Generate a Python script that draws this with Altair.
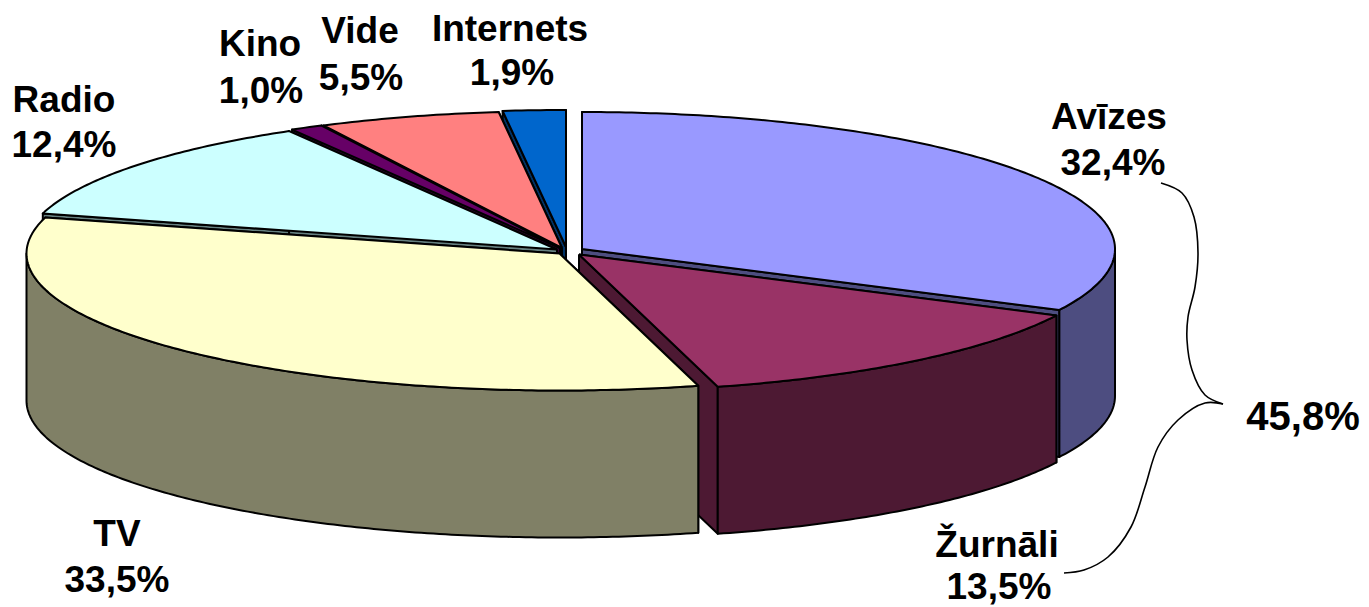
import math
import altair as alt
import pandas as pd

categories = ["Avīzes", "Žurnāli", "TV", "Radio", "Kino", "Vide", "Internets"]
shares = [32.4, 13.5, 33.5, 12.4, 1.0, 5.5, 1.9]
top_colors = ["#9999FF", "#993366", "#FFFFCC", "#CCFFFF", "#660066", "#FF8080", "#0066CC"]
side_colors = ["#4D4D80", "#4D1933", "#808066", "#668080", "#330033", "#804040", "#003366"]
centers_x = [582, 579, 559.5, 557, 560, 562, 566]
centers_y = [249, 254.5, 253.5, 249.5, 248, 248, 247]
draw_order = ["Internets", "Vide", "Kino", "Radio", "Avīzes", "Žurnāli", "TV"]

label_x1 = [1109, 997, 117, 64, 260, 360, 510]
label_x2 = [1113, 999, 117, 64, 261, 361, 512]
label_y1 = [129, 557, 546, 112, 56, 43, 41]
label_y2 = [175, 599, 592, 157, 103, 90, 85]
group_label = "45,8%"

brace_upper_x = [1161, 1182, 1194, 1198, 1195, 1188, 1187, 1192, 1205, 1223]
brace_upper_y = [183, 193, 217, 253, 287, 317, 340, 370, 395, 404]
brace_lower_x = [1223, 1205, 1178, 1158, 1145, 1131, 1108, 1084, 1064]
brace_lower_y = [404, 403, 420, 447, 487, 527, 557, 570, 573]

RX, RY, DEPTH = 533, 137, 147
W, H = 1353, 599
x_scale = alt.Scale(domain=[8, 8 + W], range=[0, W], nice=False, zero=False)
y_scale = alt.Scale(domain=[8, 8 + H], range=[0, H], nice=False, zero=False)
X = lambda f="x": alt.X(f"{f}:Q", scale=x_scale, axis=None)
Y = lambda f="y": alt.Y(f"{f}:Q", scale=y_scale, axis=None)


def point(cx, cy, deg):
    t = math.radians(deg)
    return cx + RX * math.sin(t), cy - RY * math.cos(t)


def arc(cx, cy, a, b):
    n = max(2, int(abs(b - a) * 1.5))
    return [point(cx, cy, a + (b - a) * i / n) for i in range(n + 1)]


def shape(pts, fill):
    pts = list(pts) + [pts[0]]
    df = pd.DataFrame({"x": [p[0] for p in pts], "y": [p[1] for p in pts], "i": range(len(pts))})
    return alt.Chart(df).mark_line(
        fill=fill, stroke="#000000", strokeWidth=2, strokeJoin="round", clip=False
    ).encode(x=X(), y=Y(), order="i:Q")


total = sum(shares)
angles, run = {}, 0.0
for name, s in zip(categories, shares):
    angles[name] = (run / total * 360, (run + s) / total * 360)
    run += s

layers = []
for name in draw_order:
    k = categories.index(name)
    cx, cy = centers_x[k], centers_y[k]
    a, b = angles[name]
    side, top = side_colors[k], top_colors[k]
    # radial cut faces, extruded downward
    for deg in (a, b):
        px, py = point(cx, cy, deg)
        layers.append(shape([(cx, cy), (px, py), (px, py + DEPTH), (cx, cy + DEPTH)], side))
    # outer wall, only where it faces the viewer
    lo, hi = max(a, 90), min(b, 270)
    if lo < hi:
        rim = arc(cx, cy, lo, hi)
        layers.append(shape(rim + [(p[0], p[1] + DEPTH) for p in reversed(rim)], side))
    layers.append(shape([(cx, cy)] + arc(cx, cy, a, b), top))

for bx, by in ((brace_upper_x, brace_upper_y), (brace_lower_x, brace_lower_y)):
    df = pd.DataFrame({"x": bx, "y": by, "i": range(len(bx))})
    layers.append(
        alt.Chart(df).mark_line(stroke="#000000", strokeWidth=1.6, interpolate="catmull-rom")
        .encode(x=X(), y=Y(), order="i:Q")
    )

pct = [f"{s:.1f}".replace(".", ",") + "%" for s in shares]
labels = pd.DataFrame({
    "x": label_x1 + label_x2,
    "y": label_y1 + label_y2,
    "t": categories + pct,
})
layers.append(
    alt.Chart(labels).mark_text(
        font="Liberation Sans", fontWeight="bold", fontSize=37, color="#000000",
        align="center", baseline="alphabetic",
    ).encode(x=X(), y=Y(), text="t:N")
)
group = pd.DataFrame({"x": [1303], "y": [430], "t": [group_label]})
layers.append(
    alt.Chart(group).mark_text(
        font="Liberation Sans", fontWeight="bold", fontSize=40, color="#000000",
        align="center", baseline="alphabetic",
    ).encode(x=X(), y=Y(), text="t:N")
)

chart = alt.layer(*layers).properties(
    width=W, height=H, padding=0, background="#FFFFFF",
    autosize=alt.AutoSizeParams(type="none"),
).configure_view(stroke=None)

chart.save("out.html", embed_options={"renderer": "svg", "actions": False})
